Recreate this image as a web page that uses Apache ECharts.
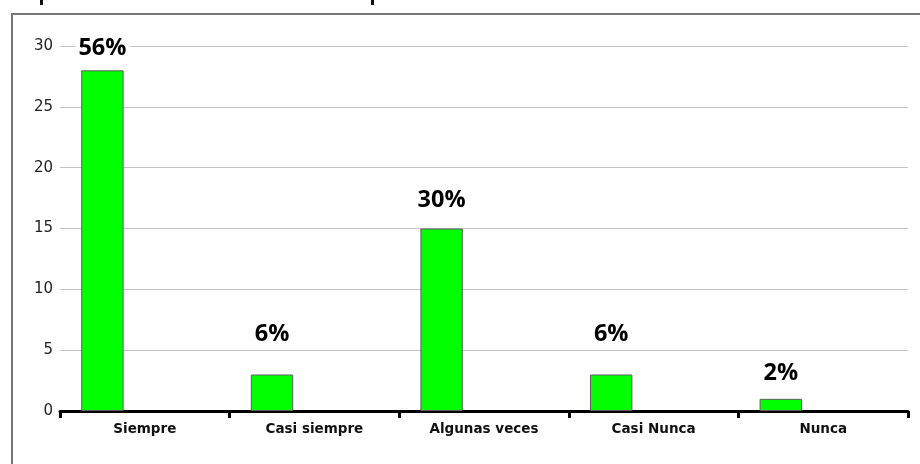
<!DOCTYPE html>
<html>
<head>
<meta charset="utf-8">
<title>Frecuencia de respuestas</title>
<script src="https://cdn.jsdelivr.net/npm/echarts@6/dist/echarts.min.js"></script>
<style>
  html, body { margin: 0; padding: 0; background: #fff; }
  #chart { width: 920px; height: 464px; }
</style>
</head>
<body>
<div id="chart"></div>
<script>
// Response categories and counts
const categories = ['Siempre', 'Casi siempre', 'Algunas veces', 'Casi Nunca', 'Nunca'];
const counts = [28, 3, 15, 3, 1];
// Gap between each percentage label and its bar
const labelGaps = [10, 28, 16, 28, 14];
const yTicks = { min: 0, max: 30, interval: 5 };

const total = counts.reduce((a, b) => a + b, 0);

const chart = echarts.init(document.getElementById('chart'), null, { renderer: 'canvas' });

chart.setOption({
  animation: false,
  backgroundColor: '#fff',
  grid: { left: 60, right: 12, top: 46, bottom: 53, containLabel: false },
  xAxis: {
    type: 'category',
    data: categories,
    axisLine: { show: true, lineStyle: { color: '#000', width: 3 } },
    axisTick: { show: true, length: 7, lineStyle: { color: '#000', width: 3 } },
    axisLabel: {
      interval: 0,
      margin: 11,
      color: '#111',
      fontFamily: 'DejaVu Sans',
      fontWeight: 'bold',
      fontSize: 13.5
    }
  },
  yAxis: {
    type: 'value',
    min: yTicks.min,
    max: yTicks.max,
    interval: yTicks.interval,
    axisLine: { show: false },
    axisTick: { show: false },
    axisLabel: { margin: 7, color: '#222', fontFamily: 'DejaVu Sans', fontSize: 15 },
    splitLine: { show: true, lineStyle: { color: '#c4c4c4', width: 1 } }
  },
  series: [
    {
      type: 'bar',
      barCategoryGap: '25%',
      barGap: '100%',
      itemStyle: { color: '#00ff00', borderColor: '#5e5e5e', borderWidth: 1 },
      data: counts.map((v, i) => ({
        value: v,
        label: {
          show: true,
          position: 'top',
          distance: labelGaps[i],
          formatter: () => Math.round(v / total * 100) + '%',
          color: '#000',
          fontFamily: 'Open Sans',
          fontWeight: 'bold',
          fontSize: 23.5,
          backgroundColor: '#fff',
          padding: [0, 3]
        }
      }))
    },
    {
      // empty companion slot that keeps each bar in the left half of its band
      type: 'bar',
      barCategoryGap: '25%',
      barGap: '100%',
      data: categories.map(() => '-')
    }
  ],
  graphic: [
    {
      type: 'rect',
      shape: { x: 12, y: 14, width: 1000, height: 1000 },
      style: { fill: 'none', stroke: '#777', lineWidth: 2 },
      silent: true
    },
    { type: 'rect', shape: { x: 40, y: 0, width: 3, height: 5 }, style: { fill: '#111' }, silent: true },
    { type: 'rect', shape: { x: 371, y: 0, width: 3, height: 5 }, style: { fill: '#111' }, silent: true }
  ]
});
</script>
</body>
</html>
